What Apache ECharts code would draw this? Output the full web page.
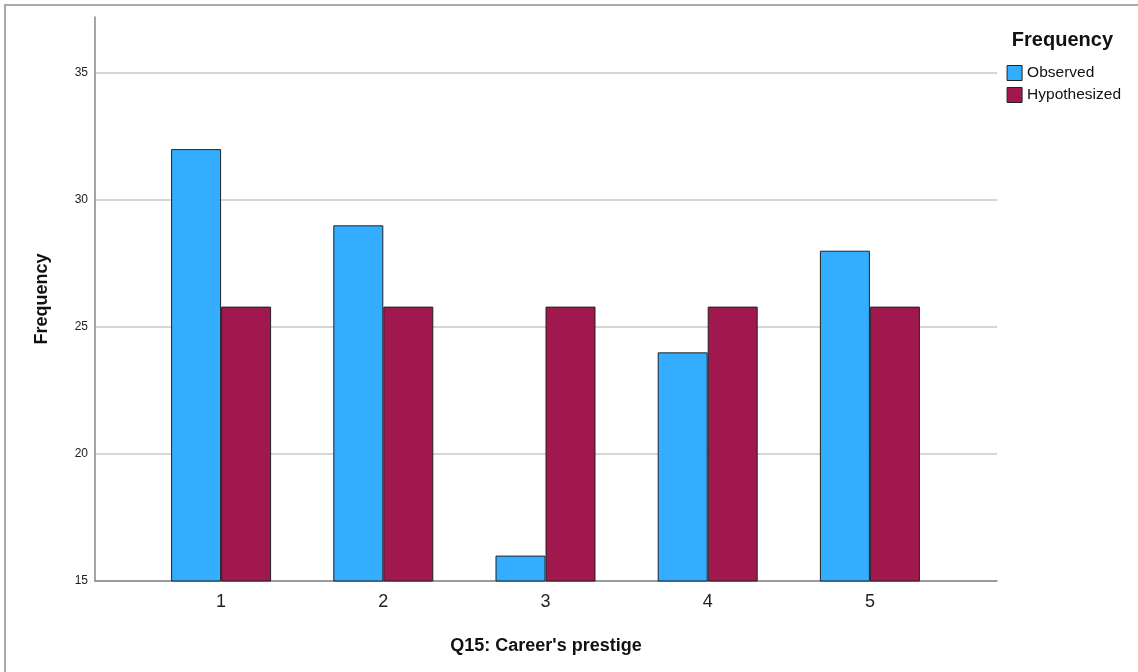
<!DOCTYPE html>
<html><head><meta charset="utf-8">
<script src="https://cdn.jsdelivr.net/npm/echarts@6/dist/echarts.min.js"></script>
<style>html,body{margin:0;padding:0;background:#fff}#c{width:1138px;height:672px}</style>
</head><body><div id="c"></div>
<script>
const categories = ['1','2','3','4','5'];
const observed = [32, 29, 16, 24, 28];
const hypothesized = [25.8, 25.8, 25.8, 25.8, 25.8];
const yTicks = [15, 20, 25, 30, 35];

const chart = echarts.init(document.getElementById('c'));
const font = 'Arial, "Liberation Sans", sans-serif';
chart.setOption({
  animation: false,
  graphic: [{type:'rect', shape:{x:5,y:5,width:1200,height:800}, style:{fill:'none', stroke:'#aaaaaa', lineWidth:2}, silent:true}],
  legend: {
    right: 12, top: 60, orient: 'vertical', itemWidth: 15, itemHeight: 15, itemGap: 6, icon: 'rect',
    textStyle: {fontFamily: font, fontSize: 15.5, color: '#111'},
    data: [{name:'Observed', itemStyle:{borderColor:'#222', borderWidth:1}}, {name:'Hypothesized', itemStyle:{borderColor:'#222', borderWidth:1}}]
  },
  title: {text: 'Frequency', right: 20, top: 25, textStyle: {fontFamily: font, fontSize: 20, fontWeight: 'bold', color: '#111'}},
  grid: [
    {left: 95, right: 141, top: 17, bottom: 91},
    {left: 140, right: 187, top: 17, bottom: 91}
  ],
  xAxis: [
    {type:'value', gridIndex:0, min:0, max:1, axisLine:{show:true, lineStyle:{color:'#888', width:1.5}}, axisTick:{show:false}, axisLabel:{show:false}, splitLine:{show:false},
     name: "Q15: Career's prestige", nameLocation:'middle', nameGap: 56, nameTextStyle:{fontFamily:font, fontSize:18, fontWeight:'bold', color:'#111'}},
    {type:'category', gridIndex:1, data: categories, axisLine:{show:false}, axisTick:{show:false},
     axisLabel:{fontFamily:font, fontSize:18, color:'#222', margin: 12}}
  ],
  yAxis: [
    {type:'value', gridIndex:0, min:15, max:37.2, interval:5, axisLine:{show:true, lineStyle:{color:'#888', width:1.5}}, axisTick:{show:false},
     axisLabel:{fontFamily:font, fontSize:12, color:'#222', margin: 7, formatter: v => yTicks.includes(v) ? String(v) : ''},
     splitLine:{showMaxLine:false, lineStyle:{color:'#c8c8c8', width:1.5}},
     name:'Frequency', nameLocation:'middle', nameRotate:90, nameGap: 44, nameTextStyle:{fontFamily:font, fontSize:18, fontWeight:'bold', color:'#111'}},
    {type:'value', gridIndex:1, min:15, max:37.2, show:false}
  ],
  series: [
    {name:'Observed', type:'bar', xAxisIndex:1, yAxisIndex:1, data: observed, barWidth: 50, barGap: '0%',
     itemStyle:{color:'#33adff', borderColor:'#222', borderWidth:1}},
    {name:'Hypothesized', type:'bar', xAxisIndex:1, yAxisIndex:1, data: hypothesized, barWidth: 50, barGap: '0%',
     itemStyle:{color:'#a0184e', borderColor:'#222', borderWidth:1}}
  ]
});
</script></body></html>
